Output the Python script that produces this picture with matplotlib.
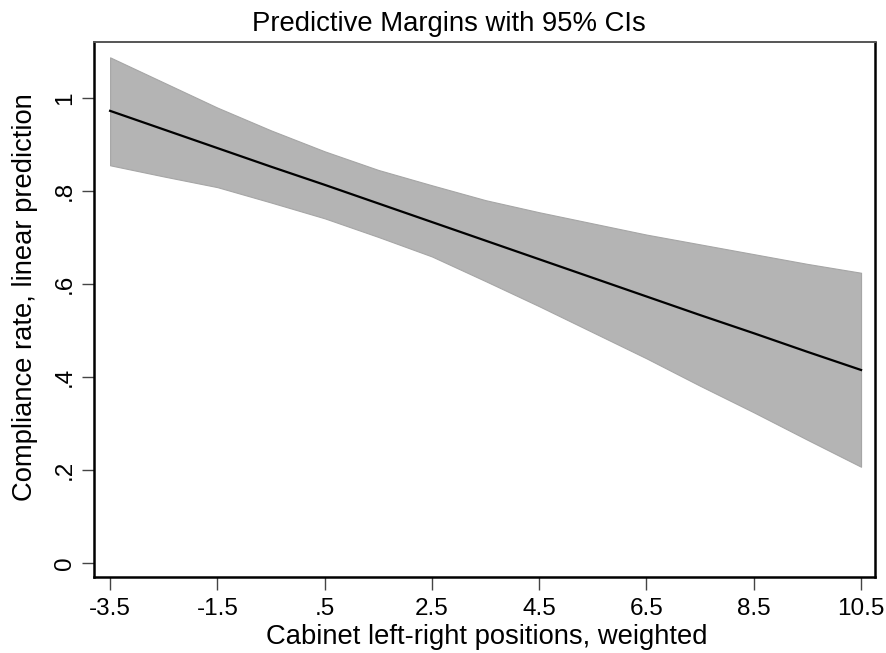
import numpy as np
import matplotlib.pyplot as plt

plt.rcParams['font.family'] = ['Liberation Sans', 'DejaVu Sans']

# Margins at each cabinet position, with 95% confidence bounds
position = [-3.5, -2.5, -1.5, -0.5, 0.5, 1.5, 2.5, 3.5, 4.5, 5.5, 6.5, 7.5, 8.5, 9.5, 10.5]
margin = [0.972, 0.932, 0.892, 0.852, 0.813, 0.773, 0.733, 0.693, 0.653, 0.613,
          0.573, 0.533, 0.494, 0.454, 0.415]
ci_upper = [1.087, 1.033, 0.979, 0.930, 0.885, 0.845, 0.812, 0.780, 0.754, 0.730,
            0.706, 0.685, 0.664, 0.643, 0.624]
ci_lower = [0.855, 0.831, 0.808, 0.775, 0.741, 0.701, 0.659, 0.606, 0.552, 0.496,
            0.440, 0.381, 0.324, 0.265, 0.207]

xticks = [-3.5, -1.5, 0.5, 2.5, 4.5, 6.5, 8.5, 10.5]
xtick_labels = ["-3.5", "-1.5", ".5", "2.5", "4.5", "6.5", "8.5", "10.5"]
yticks = [0, 0.2, 0.4, 0.6, 0.8, 1.0]
ytick_labels = ["0", ".2", ".4", ".6", ".8", "1"]

W, H = 886, 653
fig = plt.figure(figsize=(W / 100, H / 100), dpi=100)
ax = fig.add_axes([94 / W, 1 - 577 / H, 781 / W, 535 / H])

ax.fill_between(position, ci_lower, ci_upper, facecolor="#b4b4b4",
                edgecolor="#a6a6a6", linewidth=0.8)
ax.plot(position, margin, color="black", linewidth=1.6)

ax.set_xlim(-3.80, 10.76)
ax.set_ylim(-0.030, 1.120)

ax.set_xticks(xticks)
ax.set_xticklabels(xtick_labels)
ax.set_yticks(yticks)
ax.set_yticklabels(ytick_labels, rotation=90, va="center")
ax.tick_params(direction="out", length=9, width=1.0, color="#444444",
               labelsize=17.5, pad=4)
ax.tick_params(axis="x", pad=6)

for side in ["left", "bottom", "right"]:
    ax.spines[side].set_color("black")
    ax.spines[side].set_linewidth(1.8)
ax.spines["top"].set_color("#555555")
ax.spines["top"].set_linewidth(1.4)

# titles placed in figure pixels
fig.text(487 / W, 1 - 637 / H, "Cabinet left-right positions, weighted",
         ha="center", va="center", fontsize=19.7)
fig.text(25 / W, 1 - 297 / H, "Compliance rate, linear prediction",
         ha="center", va="center", rotation=90, fontsize=19.7)
fig.text(449 / W, 1 - 24 / H, "Predictive Margins with 95% CIs",
         ha="center", va="center", fontsize=19.8)

fig.savefig("out.png", dpi=100)
